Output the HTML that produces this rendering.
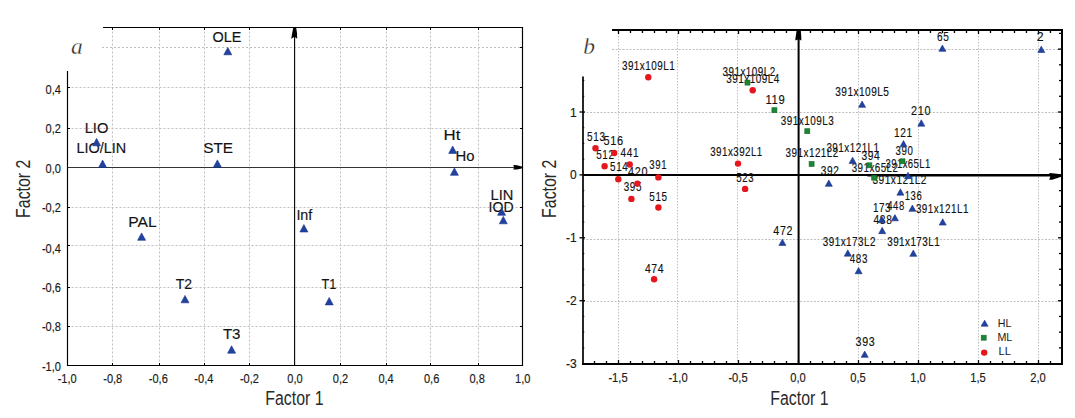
<!DOCTYPE html>
<html><head><meta charset="utf-8"><style>
html,body{margin:0;padding:0;background:#fff;}
svg{display:block;}
text{font-family:"Liberation Sans",sans-serif;fill:#111;stroke:#111;stroke-width:0.3px;}
.tick text{font-size:12px;fill:#1a1a1a;stroke-width:0.15px;}
.ttl{font-size:19.4px;fill:#2a2a2a;stroke:none;}
.lab{font-family:"Liberation Serif",serif;font-style:italic;font-size:23.5px;fill:#222;stroke:#fff;stroke-width:0.35px;}
.ptl text{fill:#141414;stroke-width:0.15px;}
.leg text{stroke:none;fill:#1a1a1a;}
.rpl text{fill:#111;stroke:#111;stroke-width:0.15px;}
.t{fill:#2043a0;stroke:#18318a;stroke-width:0.6;}
.s{fill:#1b8636;stroke:#136a28;stroke-width:0.6;}
.c{fill:#e5171d;}
</style></head><body>
<svg width="1075" height="418" viewBox="0 0 1075 418">
<rect width="1075" height="418" fill="#fff"/>
<g stroke="#bfbfbf" stroke-width="1" stroke-dasharray="2,2"><line x1="112.5" y1="27.5" x2="112.5" y2="365.5"/><line x1="159.5" y1="27.5" x2="159.5" y2="365.5"/><line x1="204.5" y1="27.5" x2="204.5" y2="365.5"/><line x1="249.5" y1="27.5" x2="249.5" y2="365.5"/><line x1="340.5" y1="27.5" x2="340.5" y2="365.5"/><line x1="386.5" y1="27.5" x2="386.5" y2="365.5"/><line x1="430.5" y1="27.5" x2="430.5" y2="365.5"/><line x1="478.5" y1="27.5" x2="478.5" y2="365.5"/><line x1="102" y1="47.5" x2="522.5" y2="47.5"/><line x1="67.5" y1="87.5" x2="522.5" y2="87.5"/><line x1="67.5" y1="128.5" x2="522.5" y2="128.5"/><line x1="67.5" y1="207.5" x2="522.5" y2="207.5"/><line x1="67.5" y1="245.5" x2="522.5" y2="245.5"/><line x1="67.5" y1="287.5" x2="522.5" y2="287.5"/><line x1="67.5" y1="326.5" x2="522.5" y2="326.5"/></g>
<g stroke="#000" stroke-width="1.15" fill="none"><polyline points="67.5,71 67.5,365.5 522.5,365.5 522.5,27.5 103,27.5"/></g>
<g stroke="#000" stroke-width="1"><line x1="112.5" y1="365.5" x2="112.5" y2="363.0"/><line x1="112.5" y1="27.5" x2="112.5" y2="30.0"/><line x1="159.5" y1="365.5" x2="159.5" y2="363.0"/><line x1="159.5" y1="27.5" x2="159.5" y2="30.0"/><line x1="204.5" y1="365.5" x2="204.5" y2="363.0"/><line x1="204.5" y1="27.5" x2="204.5" y2="30.0"/><line x1="249.5" y1="365.5" x2="249.5" y2="363.0"/><line x1="249.5" y1="27.5" x2="249.5" y2="30.0"/><line x1="294.5" y1="365.5" x2="294.5" y2="363.0"/><line x1="294.5" y1="27.5" x2="294.5" y2="30.0"/><line x1="340.5" y1="365.5" x2="340.5" y2="363.0"/><line x1="340.5" y1="27.5" x2="340.5" y2="30.0"/><line x1="386.5" y1="365.5" x2="386.5" y2="363.0"/><line x1="386.5" y1="27.5" x2="386.5" y2="30.0"/><line x1="430.5" y1="365.5" x2="430.5" y2="363.0"/><line x1="430.5" y1="27.5" x2="430.5" y2="30.0"/><line x1="478.5" y1="365.5" x2="478.5" y2="363.0"/><line x1="478.5" y1="27.5" x2="478.5" y2="30.0"/><line x1="522.5" y1="47.5" x2="520.0" y2="47.5"/><line x1="67.5" y1="87.5" x2="70.0" y2="87.5"/><line x1="522.5" y1="87.5" x2="520.0" y2="87.5"/><line x1="67.5" y1="128.5" x2="70.0" y2="128.5"/><line x1="522.5" y1="128.5" x2="520.0" y2="128.5"/><line x1="67.5" y1="167.5" x2="70.0" y2="167.5"/><line x1="522.5" y1="167.5" x2="520.0" y2="167.5"/><line x1="67.5" y1="207.5" x2="70.0" y2="207.5"/><line x1="522.5" y1="207.5" x2="520.0" y2="207.5"/><line x1="67.5" y1="245.5" x2="70.0" y2="245.5"/><line x1="522.5" y1="245.5" x2="520.0" y2="245.5"/><line x1="67.5" y1="287.5" x2="70.0" y2="287.5"/><line x1="522.5" y1="287.5" x2="520.0" y2="287.5"/><line x1="67.5" y1="326.5" x2="70.0" y2="326.5"/><line x1="522.5" y1="326.5" x2="520.0" y2="326.5"/></g>
<line x1="67.5" y1="167.5" x2="519.5" y2="167.5" stroke="#333" stroke-width="1"/>
<line x1="294.6" y1="365.5" x2="294.6" y2="30.5" stroke="#000" stroke-width="1.1"/>
<polygon points="293.2,28 296.2,28 297,33 297.2,38.7 294.6,36.8 291.2,38.7 292.2,33" fill="#000"/>
<polygon points="513.2,165 517,165.2 521.8,166.4 521.8,168.5 517,169.6 513.2,169.6 514.2,167.4" fill="#000"/>
<g class="tick"><text transform="translate(67.20,382.70) scale(0.92,1)" text-anchor="middle">-1,0</text><text transform="translate(112.75,382.70) scale(0.92,1)" text-anchor="middle">-0,8</text><text transform="translate(158.30,382.70) scale(0.92,1)" text-anchor="middle">-0,6</text><text transform="translate(203.85,382.70) scale(0.92,1)" text-anchor="middle">-0,4</text><text transform="translate(249.40,382.70) scale(0.92,1)" text-anchor="middle">-0,2</text><text transform="translate(294.95,382.70) scale(0.92,1)" text-anchor="middle">0,0</text><text transform="translate(340.50,382.70) scale(0.92,1)" text-anchor="middle">0,2</text><text transform="translate(386.05,382.70) scale(0.92,1)" text-anchor="middle">0,4</text><text transform="translate(431.60,382.70) scale(0.92,1)" text-anchor="middle">0,6</text><text transform="translate(477.15,382.70) scale(0.92,1)" text-anchor="middle">0,8</text><text transform="translate(522.70,382.70) scale(0.92,1)" text-anchor="middle">1,0</text><text transform="translate(60.90,93.80) scale(0.92,1)" text-anchor="end">0,4</text><text transform="translate(60.90,132.90) scale(0.92,1)" text-anchor="end">0,2</text><text transform="translate(60.90,172.90) scale(0.92,1)" text-anchor="end">0,0</text><text transform="translate(60.90,212.10) scale(0.92,1)" text-anchor="end">-0,2</text><text transform="translate(60.90,252.60) scale(0.92,1)" text-anchor="end">-0,4</text><text transform="translate(60.90,292.10) scale(0.92,1)" text-anchor="end">-0,6</text><text transform="translate(60.90,330.90) scale(0.92,1)" text-anchor="end">-0,8</text><text transform="translate(60.90,370.90) scale(0.92,1)" text-anchor="end">-1,0</text></g>
<text class="ttl" transform="translate(265.2,404.8) scale(0.82,1)">Factor 1</text>
<text class="ttl" transform="translate(30.3,217.9) rotate(-90) scale(0.82,1)">Factor 2</text>
<text class="lab" x="71" y="54">a</text>
<g class="ptl"><text class="" x="212.60" y="41.60" font-size="15.5" textLength="28.90" lengthAdjust="spacingAndGlyphs">OLE</text><text class="" x="84.70" y="133.00" font-size="15.5" textLength="23.60" lengthAdjust="spacingAndGlyphs">LIO</text><text class="" x="76.40" y="153.30" font-size="15.5" textLength="49.70" lengthAdjust="spacingAndGlyphs">LIO/LIN</text><text class="" x="203.20" y="153.30" font-size="15.5" textLength="29.80" lengthAdjust="spacingAndGlyphs">STE</text><text class="" x="443.60" y="139.60" font-size="15.5" textLength="16.80" lengthAdjust="spacingAndGlyphs">Ht</text><text class="" x="455.50" y="161.10" font-size="15.5" textLength="19.00" lengthAdjust="spacingAndGlyphs">Ho</text><text class="" x="490.50" y="200.20" font-size="15.5" textLength="22.80" lengthAdjust="spacingAndGlyphs">LIN</text><text class="" x="488.60" y="211.50" font-size="15.5" textLength="25.00" lengthAdjust="spacingAndGlyphs">IOD</text><text class="" x="296.40" y="219.70" font-size="15.5" textLength="15.90" lengthAdjust="spacingAndGlyphs">Inf</text><text class="" x="128.30" y="226.90" font-size="15.5" textLength="28.50" lengthAdjust="spacingAndGlyphs">PAL</text><text class="" x="175.70" y="288.70" font-size="15.5" textLength="16.40" lengthAdjust="spacingAndGlyphs">T2</text><text class="" x="321.40" y="288.70" font-size="15.5" textLength="14.90" lengthAdjust="spacingAndGlyphs">T1</text><text class="" x="222.90" y="338.90" font-size="15.5" textLength="17.60" lengthAdjust="spacingAndGlyphs">T3</text></g>
<g><polygon class="t" points="223.80,54.80 231.80,54.80 227.80,47.40"/><polygon class="t" points="92.60,145.80 100.60,145.80 96.60,138.40"/><polygon class="t" points="98.60,167.50 106.60,167.50 102.60,160.10"/><polygon class="t" points="213.40,167.30 221.40,167.30 217.40,159.90"/><polygon class="t" points="448.70,153.40 456.70,153.40 452.70,146.00"/><polygon class="t" points="450.40,175.30 458.40,175.30 454.40,167.90"/><polygon class="t" points="497.60,215.30 505.60,215.30 501.60,207.90"/><polygon class="t" points="499.30,223.80 507.30,223.80 503.30,216.40"/><polygon class="t" points="299.90,232.00 307.90,232.00 303.90,224.60"/><polygon class="t" points="137.60,240.30 145.60,240.30 141.60,232.90"/><polygon class="t" points="181.00,302.80 189.00,302.80 185.00,295.40"/><polygon class="t" points="325.20,304.90 333.20,304.90 329.20,297.50"/><polygon class="t" points="227.60,353.20 235.60,353.20 231.60,345.80"/></g>
<g stroke="#bfbfbf" stroke-width="1" stroke-dasharray="1.5,1.5"><line x1="618.5" y1="30.0" x2="618.5" y2="364.0"/><line x1="677.5" y1="30.0" x2="677.5" y2="364.0"/><line x1="737.5" y1="30.0" x2="737.5" y2="364.0"/><line x1="858.5" y1="30.0" x2="858.5" y2="364.0"/><line x1="918.5" y1="30.0" x2="918.5" y2="364.0"/><line x1="978.5" y1="30.0" x2="978.5" y2="364.0"/><line x1="1038.5" y1="30.0" x2="1038.5" y2="364.0"/></g>
<g stroke="#bfbfbf" stroke-width="1" stroke-dasharray="2,1.5"><line x1="612" y1="49.5" x2="1062.0" y2="49.5"/><line x1="583.0" y1="112.5" x2="1062.0" y2="112.5"/><line x1="583.0" y1="239.5" x2="1062.0" y2="239.5"/><line x1="583.0" y1="301.5" x2="1062.0" y2="301.5"/></g>
<g stroke="#000" fill="none"><line x1="583.0" y1="76.6" x2="583.0" y2="365.0" stroke-width="1.7"/><line x1="582.0" y1="364.0" x2="1063.0" y2="364.0" stroke-width="2"/><line x1="1062.0" y1="365.0" x2="1062.0" y2="29.0" stroke-width="2"/><line x1="1063.0" y1="30.0" x2="612" y2="30.0" stroke-width="2"/></g>
<g stroke="#000" stroke-width="1.3"><line x1="594.50" y1="364.0" x2="594.50" y2="361.0"/><line x1="606.50" y1="364.0" x2="606.50" y2="361.0"/><line x1="618.50" y1="364.0" x2="618.50" y2="360.0"/><line x1="618.50" y1="30.0" x2="618.50" y2="34.0"/><line x1="630.50" y1="364.0" x2="630.50" y2="361.0"/><line x1="630.50" y1="30.0" x2="630.50" y2="33.0"/><line x1="642.50" y1="364.0" x2="642.50" y2="361.0"/><line x1="642.50" y1="30.0" x2="642.50" y2="33.0"/><line x1="654.50" y1="364.0" x2="654.50" y2="361.0"/><line x1="654.50" y1="30.0" x2="654.50" y2="33.0"/><line x1="666.50" y1="364.0" x2="666.50" y2="361.0"/><line x1="666.50" y1="30.0" x2="666.50" y2="33.0"/><line x1="678.50" y1="364.0" x2="678.50" y2="360.0"/><line x1="678.50" y1="30.0" x2="678.50" y2="34.0"/><line x1="690.50" y1="364.0" x2="690.50" y2="361.0"/><line x1="690.50" y1="30.0" x2="690.50" y2="33.0"/><line x1="702.50" y1="364.0" x2="702.50" y2="361.0"/><line x1="702.50" y1="30.0" x2="702.50" y2="33.0"/><line x1="714.50" y1="364.0" x2="714.50" y2="361.0"/><line x1="714.50" y1="30.0" x2="714.50" y2="33.0"/><line x1="726.50" y1="364.0" x2="726.50" y2="361.0"/><line x1="726.50" y1="30.0" x2="726.50" y2="33.0"/><line x1="738.50" y1="364.0" x2="738.50" y2="360.0"/><line x1="738.50" y1="30.0" x2="738.50" y2="34.0"/><line x1="750.50" y1="364.0" x2="750.50" y2="361.0"/><line x1="750.50" y1="30.0" x2="750.50" y2="33.0"/><line x1="762.50" y1="364.0" x2="762.50" y2="361.0"/><line x1="762.50" y1="30.0" x2="762.50" y2="33.0"/><line x1="774.50" y1="364.0" x2="774.50" y2="361.0"/><line x1="774.50" y1="30.0" x2="774.50" y2="33.0"/><line x1="786.50" y1="364.0" x2="786.50" y2="361.0"/><line x1="786.50" y1="30.0" x2="786.50" y2="33.0"/><line x1="798.50" y1="364.0" x2="798.50" y2="360.0"/><line x1="798.50" y1="30.0" x2="798.50" y2="34.0"/><line x1="810.50" y1="364.0" x2="810.50" y2="361.0"/><line x1="810.50" y1="30.0" x2="810.50" y2="33.0"/><line x1="822.50" y1="364.0" x2="822.50" y2="361.0"/><line x1="822.50" y1="30.0" x2="822.50" y2="33.0"/><line x1="834.50" y1="364.0" x2="834.50" y2="361.0"/><line x1="834.50" y1="30.0" x2="834.50" y2="33.0"/><line x1="846.50" y1="364.0" x2="846.50" y2="361.0"/><line x1="846.50" y1="30.0" x2="846.50" y2="33.0"/><line x1="858.50" y1="364.0" x2="858.50" y2="360.0"/><line x1="858.50" y1="30.0" x2="858.50" y2="34.0"/><line x1="870.50" y1="364.0" x2="870.50" y2="361.0"/><line x1="870.50" y1="30.0" x2="870.50" y2="33.0"/><line x1="882.50" y1="364.0" x2="882.50" y2="361.0"/><line x1="882.50" y1="30.0" x2="882.50" y2="33.0"/><line x1="894.50" y1="364.0" x2="894.50" y2="361.0"/><line x1="894.50" y1="30.0" x2="894.50" y2="33.0"/><line x1="906.50" y1="364.0" x2="906.50" y2="361.0"/><line x1="906.50" y1="30.0" x2="906.50" y2="33.0"/><line x1="918.50" y1="364.0" x2="918.50" y2="360.0"/><line x1="918.50" y1="30.0" x2="918.50" y2="34.0"/><line x1="930.50" y1="364.0" x2="930.50" y2="361.0"/><line x1="930.50" y1="30.0" x2="930.50" y2="33.0"/><line x1="942.50" y1="364.0" x2="942.50" y2="361.0"/><line x1="942.50" y1="30.0" x2="942.50" y2="33.0"/><line x1="954.50" y1="364.0" x2="954.50" y2="361.0"/><line x1="954.50" y1="30.0" x2="954.50" y2="33.0"/><line x1="966.50" y1="364.0" x2="966.50" y2="361.0"/><line x1="966.50" y1="30.0" x2="966.50" y2="33.0"/><line x1="978.50" y1="364.0" x2="978.50" y2="360.0"/><line x1="978.50" y1="30.0" x2="978.50" y2="34.0"/><line x1="990.50" y1="364.0" x2="990.50" y2="361.0"/><line x1="990.50" y1="30.0" x2="990.50" y2="33.0"/><line x1="1002.50" y1="364.0" x2="1002.50" y2="361.0"/><line x1="1002.50" y1="30.0" x2="1002.50" y2="33.0"/><line x1="1014.50" y1="364.0" x2="1014.50" y2="361.0"/><line x1="1014.50" y1="30.0" x2="1014.50" y2="33.0"/><line x1="1026.50" y1="364.0" x2="1026.50" y2="361.0"/><line x1="1026.50" y1="30.0" x2="1026.50" y2="33.0"/><line x1="1038.50" y1="364.0" x2="1038.50" y2="360.0"/><line x1="1038.50" y1="30.0" x2="1038.50" y2="34.0"/><line x1="1050.50" y1="364.0" x2="1050.50" y2="361.0"/><line x1="1050.50" y1="30.0" x2="1050.50" y2="33.0"/><line x1="1062.0" y1="347.88" x2="1059.0" y2="347.88"/><line x1="583.0" y1="347.88" x2="584.3" y2="347.88" stroke-width="1"/><line x1="1062.0" y1="332.15" x2="1059.0" y2="332.15"/><line x1="583.0" y1="332.15" x2="584.3" y2="332.15" stroke-width="1"/><line x1="1062.0" y1="316.43" x2="1059.0" y2="316.43"/><line x1="583.0" y1="316.43" x2="584.3" y2="316.43" stroke-width="1"/><line x1="1062.0" y1="300.70" x2="1058.0" y2="300.70"/><line x1="579.5" y1="300.70" x2="585.0" y2="300.70"/><line x1="1062.0" y1="284.98" x2="1059.0" y2="284.98"/><line x1="583.0" y1="284.98" x2="584.3" y2="284.98" stroke-width="1"/><line x1="1062.0" y1="269.25" x2="1059.0" y2="269.25"/><line x1="583.0" y1="269.25" x2="584.3" y2="269.25" stroke-width="1"/><line x1="1062.0" y1="253.53" x2="1059.0" y2="253.53"/><line x1="583.0" y1="253.53" x2="584.3" y2="253.53" stroke-width="1"/><line x1="1062.0" y1="237.80" x2="1058.0" y2="237.80"/><line x1="579.5" y1="237.80" x2="585.0" y2="237.80"/><line x1="1062.0" y1="222.07" x2="1059.0" y2="222.07"/><line x1="583.0" y1="222.07" x2="584.3" y2="222.07" stroke-width="1"/><line x1="1062.0" y1="206.35" x2="1059.0" y2="206.35"/><line x1="583.0" y1="206.35" x2="584.3" y2="206.35" stroke-width="1"/><line x1="1062.0" y1="190.62" x2="1059.0" y2="190.62"/><line x1="583.0" y1="190.62" x2="584.3" y2="190.62" stroke-width="1"/><line x1="1062.0" y1="174.90" x2="1058.0" y2="174.90"/><line x1="579.5" y1="174.90" x2="585.0" y2="174.90"/><line x1="1062.0" y1="159.18" x2="1059.0" y2="159.18"/><line x1="583.0" y1="159.18" x2="584.3" y2="159.18" stroke-width="1"/><line x1="1062.0" y1="143.45" x2="1059.0" y2="143.45"/><line x1="583.0" y1="143.45" x2="584.3" y2="143.45" stroke-width="1"/><line x1="1062.0" y1="127.73" x2="1059.0" y2="127.73"/><line x1="583.0" y1="127.73" x2="584.3" y2="127.73" stroke-width="1"/><line x1="1062.0" y1="112.00" x2="1058.0" y2="112.00"/><line x1="579.5" y1="112.00" x2="585.0" y2="112.00"/><line x1="1062.0" y1="96.28" x2="1059.0" y2="96.28"/><line x1="583.0" y1="96.28" x2="584.3" y2="96.28" stroke-width="1"/><line x1="1062.0" y1="80.55" x2="1059.0" y2="80.55"/><line x1="583.0" y1="80.55" x2="584.3" y2="80.55" stroke-width="1"/><line x1="1062.0" y1="64.83" x2="1059.0" y2="64.83"/><line x1="1062.0" y1="49.10" x2="1058.0" y2="49.10"/><line x1="1062.0" y1="33.38" x2="1059.0" y2="33.38"/></g>
<line x1="583.0" y1="175.0" x2="1058.0" y2="175.0" stroke="#000" stroke-width="2"/>
<line x1="798.6" y1="364.0" x2="798.6" y2="34.0" stroke="#000" stroke-width="2"/>
<line x1="867.4" y1="175.7" x2="1054.0" y2="175.7" stroke="#000" stroke-width="1.4"/>
<polygon points="796.6,30.5 800.8,30.5 801.3,37 801.3,40.5 798.6,39.2 795.2,40.5 795.8,36" fill="#000"/>
<polygon points="1049.2,173 1052.2,173.2 1061.2,174.3 1061.2,176.8 1056,178.6 1052.2,179.8 1049.2,179.8 1050.3,176.4" fill="#000"/>
<g class="tick"><text transform="translate(618.00,382.10) scale(0.93,1)" text-anchor="middle">-1,5</text><text transform="translate(678.00,382.10) scale(0.93,1)" text-anchor="middle">-1,0</text><text transform="translate(738.00,382.10) scale(0.93,1)" text-anchor="middle">-0,5</text><text transform="translate(798.00,382.10) scale(0.93,1)" text-anchor="middle">0,0</text><text transform="translate(858.00,382.10) scale(0.93,1)" text-anchor="middle">0,5</text><text transform="translate(918.00,382.10) scale(0.93,1)" text-anchor="middle">1,0</text><text transform="translate(978.00,382.10) scale(0.93,1)" text-anchor="middle">1,5</text><text transform="translate(1038.00,382.10) scale(0.93,1)" text-anchor="middle">2,0</text><text transform="translate(576.60,116.70) scale(1.0,1)" text-anchor="end">1</text><text transform="translate(576.60,178.70) scale(1.0,1)" text-anchor="end">0</text><text transform="translate(576.60,241.60) scale(1.0,1)" text-anchor="end">-1</text><text transform="translate(576.60,304.70) scale(1.0,1)" text-anchor="end">-2</text><text transform="translate(576.60,367.80) scale(1.0,1)" text-anchor="end">-3</text></g>
<text class="ttl" transform="translate(770.3,404.7) scale(0.82,1)">Factor 1</text>
<text class="ttl" transform="translate(556.2,217.9) rotate(-90) scale(0.82,1)">Factor 2</text>
<text class="lab" x="583.3" y="53.9">b</text>
<g class="rpl"><text transform="translate(1036.80,40.90) scale(0.9900488901376914,1)" font-size="12.5" textLength="7.47" lengthAdjust="spacing">2</text><text transform="translate(936.90,40.60) scale(0.8027423433548749,1)" font-size="12.5" textLength="14.95" lengthAdjust="spacing">65</text><text transform="translate(835.30,95.90) scale(0.8058277342763327,1)" font-size="12.5" textLength="66.52" lengthAdjust="spacing">391x109L5</text><text transform="translate(911.10,114.80) scale(0.8651778589491421,1)" font-size="12.5" textLength="22.42" lengthAdjust="spacing">210</text><text transform="translate(894.00,136.90) scale(0.8161213824107876,1)" font-size="12.5" textLength="22.42" lengthAdjust="spacing">121</text><text transform="translate(826.40,152.30) scale(0.7922970447082603,1)" font-size="12.5" textLength="66.52" lengthAdjust="spacing">391x121L1</text><text transform="translate(820.70,174.70) scale(0.8116617027254817,1)" font-size="12.5" textLength="22.42" lengthAdjust="spacing">392</text><text transform="translate(885.40,167.60) scale(0.7621811973108527,1)" font-size="12.5" textLength="59.04" lengthAdjust="spacing">391x65L1</text><text transform="translate(872.50,183.90) scale(0.8118413740843649,1)" font-size="12.5" textLength="66.52" lengthAdjust="spacing">391x121L2</text><text transform="translate(904.80,200.40) scale(0.76,1)" font-size="12.5" textLength="22.24" lengthAdjust="spacing">136</text><text transform="translate(915.90,213.10) scale(0.7892902248042435,1)" font-size="12.5" textLength="66.52" lengthAdjust="spacing">391x121L1</text><text transform="translate(872.90,211.70) scale(0.7893633042989625,1)" font-size="12.5" textLength="22.42" lengthAdjust="spacing">173</text><text transform="translate(887.20,210.00) scale(0.7626052261871272,1)" font-size="12.5" textLength="22.42" lengthAdjust="spacing">448</text><text transform="translate(873.60,223.60) scale(0.8116617027254817,1)" font-size="12.5" textLength="22.42" lengthAdjust="spacing">488</text><text transform="translate(822.70,245.90) scale(0.7938004546602672,1)" font-size="12.5" textLength="66.52" lengthAdjust="spacing">391x173L2</text><text transform="translate(887.20,245.90) scale(0.7892902248042435,1)" font-size="12.5" textLength="66.52" lengthAdjust="spacing">391x173L1</text><text transform="translate(849.70,262.60) scale(0.7893633042989574,1)" font-size="12.5" textLength="22.42" lengthAdjust="spacing">483</text><text transform="translate(855.60,345.50) scale(0.8562584995785303,1)" font-size="12.5" textLength="22.42" lengthAdjust="spacing">393</text><text transform="translate(773.30,234.90) scale(0.8517988198932296,1)" font-size="12.5" textLength="22.42" lengthAdjust="spacing">472</text><text transform="translate(722.50,76.00) scale(0.7922970447082603,1)" font-size="12.5" textLength="66.52" lengthAdjust="spacing">391x109L2</text><text transform="translate(765.50,104.10) scale(0.9007927857282865,1)" font-size="12.5" textLength="21.43" lengthAdjust="spacing">119</text><text transform="translate(780.80,124.80) scale(0.7953038646122772,1)" font-size="12.5" textLength="66.52" lengthAdjust="spacing">391x109L3</text><text transform="translate(785.60,157.40) scale(0.7922970447082587,1)" font-size="12.5" textLength="66.52" lengthAdjust="spacing">391x121L2</text><text transform="translate(861.40,160.20) scale(0.8205810620960935,1)" font-size="12.5" textLength="22.42" lengthAdjust="spacing">394</text><text transform="translate(895.40,154.50) scale(0.7759842652430449,1)" font-size="12.5" textLength="22.42" lengthAdjust="spacing">390</text><text transform="translate(851.70,171.60) scale(0.7825060292391409,1)" font-size="12.5" textLength="59.04" lengthAdjust="spacing">391x65L2</text><text transform="translate(621.90,69.60) scale(0.7938004546602687,1)" font-size="12.5" textLength="66.52" lengthAdjust="spacing">391x109L1</text><text transform="translate(726.30,82.70) scale(0.7983106845162924,1)" font-size="12.5" textLength="66.52" lengthAdjust="spacing">391x109L4</text><text transform="translate(587.10,140.70) scale(0.7938229839842633,1)" font-size="12.5" textLength="22.42" lengthAdjust="spacing">513</text><text transform="translate(603.40,144.80) scale(0.8785568980050598,1)" font-size="12.5" textLength="22.42" lengthAdjust="spacing">516</text><text transform="translate(596.20,159.10) scale(0.7938229839842633,1)" font-size="12.5" textLength="22.42" lengthAdjust="spacing">512</text><text transform="translate(620.60,156.70) scale(0.802742343354875,1)" font-size="12.5" textLength="22.42" lengthAdjust="spacing">441</text><text transform="translate(610.10,171.10) scale(0.7893633042989574,1)" font-size="12.5" textLength="22.42" lengthAdjust="spacing">514</text><text transform="translate(628.00,175.80) scale(0.8696375386344479,1)" font-size="12.5" textLength="22.42" lengthAdjust="spacing">420</text><text transform="translate(649.30,168.70) scale(0.7670649058724381,1)" font-size="12.5" textLength="22.42" lengthAdjust="spacing">391</text><text transform="translate(623.70,191.40) scale(0.7938229839842633,1)" font-size="12.5" textLength="22.42" lengthAdjust="spacing">395</text><text transform="translate(649.30,200.50) scale(0.7893633042989625,1)" font-size="12.5" textLength="22.42" lengthAdjust="spacing">515</text><text transform="translate(710.20,155.90) scale(0.7832765849962098,1)" font-size="12.5" textLength="66.52" lengthAdjust="spacing">391x392L1</text><text transform="translate(736.30,181.80) scale(0.7759842652430499,1)" font-size="12.5" textLength="22.42" lengthAdjust="spacing">523</text><text transform="translate(644.90,273.10) scale(0.8339601011520111,1)" font-size="12.5" textLength="22.42" lengthAdjust="spacing">474</text></g>
<g><circle class="c" cx="648.30" cy="77.20" r="3.2"/><circle class="c" cx="752.70" cy="90.20" r="3.2"/><circle class="c" cx="595.50" cy="148.30" r="3.2"/><circle class="c" cx="614.20" cy="153.00" r="3.2"/><circle class="c" cx="604.60" cy="166.20" r="3.2"/><circle class="c" cx="629.70" cy="164.50" r="3.2"/><circle class="c" cx="618.30" cy="179.30" r="3.2"/><circle class="c" cx="637.40" cy="183.60" r="3.2"/><circle class="c" cx="658.40" cy="177.40" r="3.2"/><circle class="c" cx="631.40" cy="198.90" r="3.2"/><circle class="c" cx="658.40" cy="207.50" r="3.2"/><circle class="c" cx="738.00" cy="163.60" r="3.2"/><circle class="c" cx="745.10" cy="188.90" r="3.2"/><circle class="c" cx="654.10" cy="279.30" r="3.2"/><rect class="s" x="745.00" y="80.10" width="5" height="5"/><rect class="s" x="771.90" y="107.70" width="5" height="5"/><rect class="s" x="804.80" y="128.70" width="5" height="5"/><rect class="s" x="809.10" y="161.50" width="5" height="5"/><rect class="s" x="866.90" y="162.80" width="5" height="5"/><rect class="s" x="900.00" y="158.80" width="5" height="5"/><rect class="s" x="871.70" y="175.20" width="5" height="5"/><polygon class="t" points="1037.80,52.45 1044.80,52.45 1041.30,46.15"/><polygon class="t" points="938.90,51.35 945.90,51.35 942.40,45.05"/><polygon class="t" points="858.60,107.35 865.60,107.35 862.10,101.05"/><polygon class="t" points="917.80,126.15 924.80,126.15 921.30,119.85"/><polygon class="t" points="900.00,146.85 907.00,146.85 903.50,140.55"/><polygon class="t" points="849.10,163.45 856.10,163.45 852.60,157.15"/><polygon class="t" points="825.30,186.35 832.30,186.35 828.80,180.05"/><polygon class="t" points="904.50,178.65 911.50,178.65 908.00,172.35"/><polygon class="t" points="896.90,195.15 903.90,195.15 900.40,188.85"/><polygon class="t" points="908.90,211.35 915.90,211.35 912.40,205.05"/><polygon class="t" points="939.20,225.05 946.20,225.05 942.70,218.75"/><polygon class="t" points="878.30,222.65 885.30,222.65 881.80,216.35"/><polygon class="t" points="891.40,220.85 898.40,220.85 894.90,214.55"/><polygon class="t" points="878.70,233.65 885.70,233.65 882.20,227.35"/><polygon class="t" points="844.30,256.15 851.30,256.15 847.80,249.85"/><polygon class="t" points="909.80,256.35 916.80,256.35 913.30,250.05"/><polygon class="t" points="855.10,273.75 862.10,273.75 858.60,267.45"/><polygon class="t" points="861.20,357.35 868.20,357.35 864.70,351.05"/><polygon class="t" points="778.90,245.45 785.90,245.45 782.40,239.15"/></g>
<polygon class="t" points="981.10,326.20 988.10,326.20 984.60,320.20"/>
<rect class="s" x="981.20" y="335.20" width="5" height="5"/>
<circle class="c" cx="984.20" cy="352.60" r="3.2"/>
<g class="leg" style="stroke-width:0"><text class="" x="997.80" y="326.80" font-size="11.5" textLength="13.60" lengthAdjust="spacingAndGlyphs">HL</text><text class="" x="997.40" y="341.30" font-size="11.5" textLength="14.90" lengthAdjust="spacingAndGlyphs">ML</text><text class="" x="998.60" y="355.40" font-size="11.5" textLength="12.40" lengthAdjust="spacingAndGlyphs">LL</text></g>
</svg>
</body></html>
